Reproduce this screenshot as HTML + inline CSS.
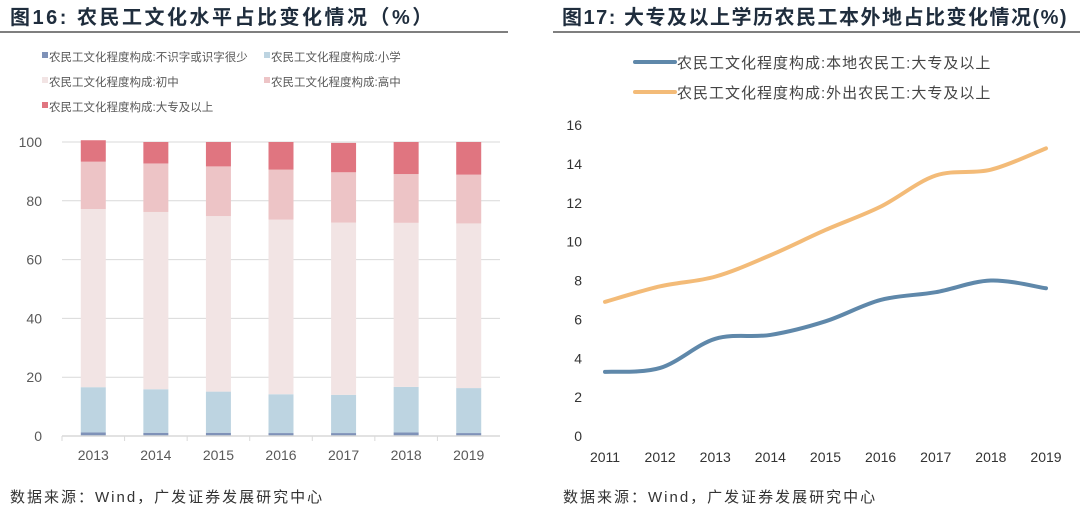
<!DOCTYPE html>
<html><head><meta charset="utf-8">
<style>
body{margin:0;width:1080px;height:514px;background:#fff;overflow:hidden;font-family:"Liberation Sans","Noto Sans CJK SC",sans-serif;}
svg{display:block}
</style></head>
<body>
<svg id="svg" width="1080" height="514" xmlns="http://www.w3.org/2000/svg">
<text x="10" y="24" font-size="20" font-weight="bold" letter-spacing="2.5" fill="#1f2d3d" font-family="Liberation Sans,Noto Sans CJK SC,sans-serif">图16:  农民工文化水平占比变化情况（%）</text>
<line x1="0" y1="32" x2="508" y2="32" stroke="#555" stroke-width="1.5"/>
<text x="562" y="24" font-size="20" font-weight="bold" letter-spacing="1.5" fill="#1f2d3d" font-family="Liberation Sans,Noto Sans CJK SC,sans-serif">图17: 大专及以上学历农民工本外地占比变化情况(%)</text>
<line x1="553" y1="32" x2="1080" y2="32" stroke="#555" stroke-width="1.5"/>
<text x="10" y="502" font-size="15" letter-spacing="2" fill="#333" font-family="Liberation Sans,Noto Sans CJK SC,sans-serif">数据来源：Wind，广发证券发展研究中心</text>
<text x="563" y="502" font-size="15" letter-spacing="2" fill="#333" font-family="Liberation Sans,Noto Sans CJK SC,sans-serif">数据来源：Wind，广发证券发展研究中心</text>
<g id="left"></g><g id="right"></g>
</svg>
<script>
const years = ["2013","2014","2015","2016","2017","2018","2019"];
const illiterate = [1.2,1.1,1.1,1.0,1.0,1.2,1.0];
const primary = [15.4,14.8,14.0,13.2,13.0,15.5,15.3];
const junior = [60.6,60.3,59.7,59.4,58.6,55.8,56.0];
const senior = [16.1,16.5,16.9,17.0,17.1,16.6,16.6];
const college = [7.3,7.3,8.3,9.4,10.0,10.9,11.1];
const leftTicks = [0,20,40,60,80,100];

const lineYears = ["2011","2012","2013","2014","2015","2016","2017","2018","2019"];
const localCollege = [3.3,3.5,5.0,5.2,5.9,7.0,7.4,8.0,7.6];
const migrantCollege = [6.9,7.7,8.2,9.3,10.6,11.8,13.4,13.7,14.8];
const rightTicks = [0,2,4,6,8,10,12,14,16];

const NS="http://www.w3.org/2000/svg";
function mk(p,tag,attrs){const e=document.createElementNS(NS,tag);for(const k in attrs)e.setAttribute(k,attrs[k]);p.appendChild(e);return e;}
const FONT="Liberation Sans, Noto Sans CJK SC, sans-serif";

// LEFT
const L=document.getElementById('left');
const lx0=62,lx1=500,ly0=436,ly1=142;
const ly=v=>ly0-(v/100)*(ly0-ly1);
const bw=(lx1-lx0)/years.length;
const lxc=i=>lx0+bw*(i+0.5);
leftTicks.forEach(t=>{
  const g=mk(L,'line',{x1:lx0,x2:lx1,y1:ly(t),y2:ly(t),stroke:'#d9d9d9','stroke-width':1});
  
  
  const tx=mk(L,'text',{x:42,y:ly(t)+5,'font-size':14,fill:'#595959','text-anchor':'end','font-family':FONT});
  tx.textContent=t;
  
  
});
const series=[[illiterate,'#7f92b8','illiterate'],[primary,'#bdd4e1','primary'],[junior,'#f2e4e4','junior'],[senior,'#edc4c6','senior'],[college,'#e07580','college']];
years.forEach((yr,i)=>{
  let acc=0;
  series.forEach(([arr,col,nm])=>{
    const v=arr[i];
    const r=mk(L,'rect',{x:lxc(i)-12.5,y:ly(acc+v),width:25,height:ly(acc)-ly(acc+v),fill:col});
    
    
    acc+=v;
  });
  const tx=mk(L,'text',{x:lxc(i),y:460,'font-size':14,fill:'#595959','text-anchor':'middle','font-family':FONT});
  tx.textContent=yr;
  
  
  const tk=mk(L,'line',{x1:lx0+bw*i,x2:lx0+bw*i,y1:ly0,y2:ly0+5,stroke:'#d9d9d9'});
  
  
});
mk(L,'line',{x1:lx0,x2:lx1,y1:ly0,y2:ly0,stroke:'#d9d9d9','stroke-width':1.5});
const legL=[['农民工文化程度构成:不识字或识字很少','#7f92b8',44,57],['农民工文化程度构成:小学','#bdd4e1',266,57],['农民工文化程度构成:初中','#f2e4e4',44,82],['农民工文化程度构成:高中','#edc4c6',266,82],['农民工文化程度构成:大专及以上','#e07580',44,107]];
legL.forEach(([t,c,x,y],k)=>{
  const r=mk(L,'rect',{x:x-2,y:y-5,width:6,height:6,fill:c});
  
  
  const tx=mk(L,'text',{x:x+5,y:y+4,'font-size':11.5,fill:'#595959','font-family':FONT});
  tx.textContent=t;
  
  
});

// RIGHT
const R=document.getElementById('right');
const rx0=605,rx1=1046,ry0=436,ry1=125;
const ry=v=>ry0-(v/16)*(ry0-ry1);
const rx=i=>rx0+(rx1-rx0)*i/(lineYears.length-1);
rightTicks.forEach(t=>{
  const tx=mk(R,'text',{x:582,y:ry(t)+5,'font-size':14,fill:'#333','text-anchor':'end','font-family':FONT});
  tx.textContent=t;
  
  
});
lineYears.forEach((yr,i)=>{
  const tx=mk(R,'text',{x:rx(i),y:462,'font-size':14,fill:'#333','text-anchor':'middle','font-family':FONT});
  tx.textContent=yr;
  
  
});
function smooth(arr){
  const p=arr.map((v,i)=>[rx(i),ry(v)]);
  let d='M'+p[0][0]+','+p[0][1];
  for(let i=0;i<p.length-1;i++){
    const p0=p[i-1]||p[i],p1=p[i],p2=p[i+1],p3=p[i+2]||p2;
    const c1=[p1[0]+(p2[0]-p0[0])/6,p1[1]+(p2[1]-p0[1])/6];
    const c2=[p2[0]-(p3[0]-p1[0])/6,p2[1]-(p3[1]-p1[1])/6];
    d+=' C'+c1+' '+c2+' '+p2;
  }
  return d;
}
const ln1=mk(R,'path',{d:smooth(localCollege),fill:'none',stroke:'#5f88aa','stroke-width':4,'stroke-linecap':'round'});


const ln2=mk(R,'path',{d:smooth(migrantCollege),fill:'none',stroke:'#f3bb78','stroke-width':4,'stroke-linecap':'round'});


const legR=[['农民工文化程度构成:本地农民工:大专及以上','#5f88aa',62],['农民工文化程度构成:外出农民工:大专及以上','#f3bb78',92]];
legR.forEach(([t,c,y],k)=>{
  const l=mk(R,'line',{x1:635,x2:675,y1:y,y2:y,stroke:c,'stroke-width':4,'stroke-linecap':'round'});
  
  
  const tx=mk(R,'text',{x:677,y:y+6,'font-size':15,'letter-spacing':1,fill:'#444','font-family':FONT});
  tx.textContent=t;
  
  
});
</script>
</body></html>
